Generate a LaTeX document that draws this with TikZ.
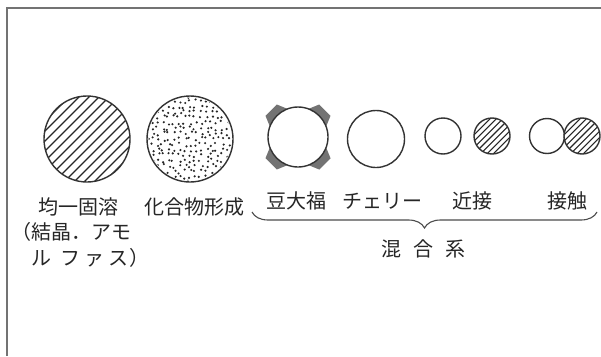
\documentclass[tikz,border=0pt]{standalone}
\usepackage{fontspec}
\newfontfamily\jp{Noto Sans CJK JP}
\usetikzlibrary{decorations.pathreplacing}
\newcommand\myhatch[4]{% cx, cy, r, horizontal spacing
  \begin{scope}
    \clip (#1,#2) circle (#3);
    \foreach \k in {-12,...,12}{
      \draw[hatchline] ({#1+\k*#4-#3-2},{#2+#3+2}) -- ({#1+\k*#4+#3+2},{#2-#3-2});
    }
  \end{scope}
}
\begin{document}
\begin{tikzpicture}[x=1pt,y=-1pt,
  outline/.style={draw=black!80, line width=1.4pt},
  hatchline/.style={line width=1.1pt, draw=black!85},
  lbl/.style={font=\jp\fontsize{20}{24}\selectfont, text=black!85, inner sep=0pt},
  lump/.style={fill=black!55, draw=none},
  frameline/.style={draw=black!55, line width=1.5pt},
  dotstyle/.style={fill=black!85},
  bracestyle/.style={draw=black!70, line width=1.1pt, decorate,
     decoration={brace, amplitude=16pt}}]
\useasboundingbox (0,0) rectangle (601,356);
\fill[white] (0,0) rectangle (601,356);
\draw[frameline] (7,356) -- (7,8) -- (601,8);

% homogeneous solid solution (hatched)
\myhatch{87}{139}{43}{10}
\draw[outline] (87,139) circle (43);

% compound (dotted)
\begin{scope}
  \clip (190,139) circle (41.5);
  \pgfmathsetseed{11}
  \foreach \i in {-8,...,8}{
    \foreach \j in {-8,...,8}{
      \pgfmathsetmacro\px{190+\i*5.4+2.1*rand}
      \pgfmathsetmacro\py{139+\j*5.4+2.1*rand}
      \fill[dotstyle] (\px,\py) circle (1.2);
    }
  }
\end{scope}
\draw[outline] (190,139) circle (43);

% mame-daifuku
\foreach \a in {45,135,225,315}{
  \begin{scope}[shift={(298,137)}, rotate=\a]
    \fill[lump] (26,-13) -- (38,-8) -- (38,8) -- (26,13) -- cycle;
  \end{scope}
}
\draw[outline, fill=white] (298,137) circle (30);

% cherry
\draw[outline] (376,139) circle (28.5);

% proximity
\draw[outline] (443,136) circle (18);
\myhatch{492}{136}{18}{6.4}
\draw[outline] (492,136) circle (18);

% contact
\draw[outline] (547,136) circle (17.5);
\fill[white] (582,136) circle (18);
\myhatch{582}{136}{18}{6.4}
\draw[outline] (582,136) circle (18);

% labels
\node[lbl] (l1) at (78,207) {均一固溶};
\node[lbl, anchor=west] (l1b) at (11,232) {（結晶．アモ};
\node[lbl, anchor=west] (l1c) at (31,258) {ル\hspace{9pt}フ\hspace{4pt}ァ\hspace{4pt}ス\hspace{1pt}）};
\node[lbl] (l2) at (194,207) {化合物形成};
\node[lbl] (l3) at (296,201) {豆大福};
\node[lbl] (l4) at (382,201) {チェリー};
\node[lbl] (l5) at (472,201) {近接};
\node[lbl] (l6) at (567,201) {接触};

\coordinate (br) at (597,212);
\coordinate (bl) at (252,212);
\draw[bracestyle] (br) -- (bl);
\node[lbl] (mix) at (423,249) {混\hspace{12pt}合\hspace{12pt}系};
\end{tikzpicture}
\end{document}
